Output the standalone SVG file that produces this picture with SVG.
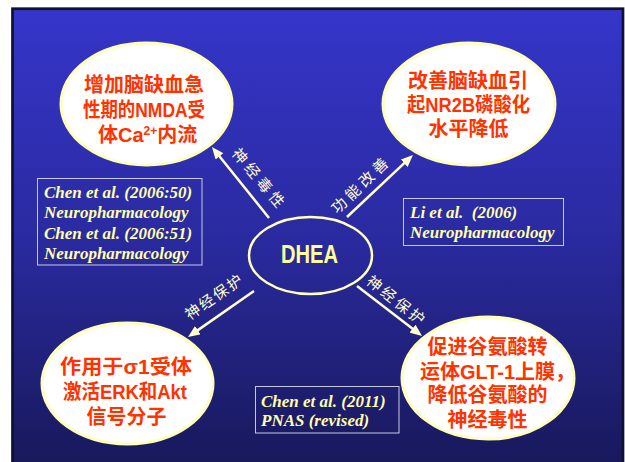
<svg xmlns="http://www.w3.org/2000/svg" width="625" height="462" viewBox="0 0 625 462">
<defs>
<linearGradient id="bg" x1="0" y1="0" x2="0" y2="1">
<stop offset="0" stop-color="#3535ca"/>
<stop offset="0.5" stop-color="#2a2aa0"/>
<stop offset="1" stop-color="#18185a"/>
</linearGradient>
<marker id="ah" viewBox="0 0 12 10" markerWidth="12" markerHeight="10" refX="3" refY="5" orient="auto" markerUnits="userSpaceOnUse">
<path d="M0,0 L12,5 L0,10 z" fill="#ffffcc"/>
</marker>
<style>
.bubble{fill:#ffffff;stroke:#ffffbb;stroke-width:3}
.red{font-family:"Liberation Sans","Noto Sans CJK SC",sans-serif;font-weight:700;font-size:20px;fill:#ff3300}
.lbl{font-family:"Noto Sans CJK SC",sans-serif;font-size:15px;fill:#ffffcc;letter-spacing:4px}
.ref{font-family:"Liberation Serif",serif;font-weight:700;font-style:italic;font-size:17px;fill:#ffffa8}
.box{fill:none;stroke:#c8c8e0;stroke-width:1}
.conn{stroke:#ffffcc;stroke-width:2.5;fill:none;marker-end:url(#ah)}
</style>
</defs>
<rect x="0" y="0" width="625" height="462" fill="#ffffff"/>
<rect x="12.5" y="8.7" width="610.5" height="460" fill="url(#bg)" stroke="#101030" stroke-width="2.7"/>

<g id="connectors">
<line class="conn" x1="269" y1="218" x2="217.6" y2="154"/>
<line class="conn" x1="347" y1="217" x2="406.4" y2="161.2"/>
<line class="conn" x1="254" y1="291" x2="195.4" y2="331.9"/>
<line class="conn" x1="357" y1="286" x2="414.9" y2="330.5"/>
<text class="lbl" text-anchor="middle" transform="translate(258,178) rotate(50)" x="2" y="5">神经毒性</text>
<text class="lbl" text-anchor="middle" transform="translate(360,186) rotate(-44)" x="2" y="5">功能改善</text>
<text class="lbl" text-anchor="middle" transform="translate(213,298) rotate(-35)" x="2" y="5" style="letter-spacing:2px">神经保护</text>
<text class="lbl" text-anchor="middle" transform="translate(395,300) rotate(38)" x="2" y="5" style="letter-spacing:3px">神经保护</text>
</g>

<g id="dhea">
<ellipse cx="310.5" cy="255.5" rx="61.5" ry="38.5" fill="none" stroke="#ffffbb" stroke-width="2.5"/>
<text x="281" y="263" font-family="'Liberation Sans',sans-serif" font-weight="700" font-size="26" fill="#ffff99" textLength="57" lengthAdjust="spacingAndGlyphs">DHEA</text>
</g>

<g id="node-top-left">
<ellipse class="bubble" cx="146.5" cy="104" rx="85.5" ry="61"/>
<text class="red"><tspan x="84" y="92">增加脑缺血急</tspan><tspan x="83" y="117" textLength="122" lengthAdjust="spacingAndGlyphs">性期的NMDA受</tspan><tspan x="98" y="142">体Ca</tspan><tspan font-size="12" dy="-7">2+</tspan><tspan dy="7">内流</tspan></text>
</g>

<g id="node-top-right">
<ellipse class="bubble" cx="469" cy="104" rx="86" ry="61"/>
<text class="red"><tspan x="408" y="88">改善脑缺血引</tspan><tspan x="407" y="112" textLength="123" lengthAdjust="spacingAndGlyphs">起NR2B磷酸化</tspan><tspan x="428.5" y="136">水平降低</tspan></text>
</g>

<g id="node-bottom-left">
<ellipse class="bubble" cx="127.5" cy="383.5" rx="85.5" ry="60.5"/>
<text class="red"><tspan x="60" y="374" textLength="132" lengthAdjust="spacingAndGlyphs">作用于σ1受体</tspan><tspan x="63" y="399" textLength="124" lengthAdjust="spacingAndGlyphs">激活ERK和Akt</tspan><tspan x="86.5" y="424">信号分子</tspan></text>
</g>

<g id="node-bottom-right">
<ellipse class="bubble" cx="488" cy="378" rx="86" ry="61"/>
<text class="red"><tspan x="427.5" y="354">促进谷氨酸转</tspan><tspan x="420" y="379" textLength="155" lengthAdjust="spacingAndGlyphs">运体GLT-1上膜，</tspan><tspan x="427.5" y="402">降低谷氨酸的</tspan><tspan x="447.5" y="427">神经毒性</tspan></text>
</g>

<g id="ref-chen-2006">
<rect class="box" x="37.5" y="178.5" width="164.5" height="86.5"/>
<text class="ref"><tspan x="44" y="197.5">Chen et al. (2006:50)</tspan><tspan x="44" y="218">Neuropharmacology</tspan><tspan x="44" y="238.5">Chen et al. (2006:51)</tspan><tspan x="44" y="259">Neuropharmacology</tspan></text>
</g>

<g id="ref-li-2006">
<rect class="box" x="403.5" y="198.5" width="160" height="47"/>
<text class="ref" xml:space="preserve"><tspan x="410" y="218">Li et al.  (2006)</tspan><tspan x="410" y="238">Neuropharmacology</tspan></text>
</g>

<g id="ref-chen-2011">
<rect class="box" x="255.5" y="386.5" width="143.5" height="46.5"/>
<text class="ref"><tspan x="261" y="406.5">Chen et al. (2011)</tspan><tspan x="261" y="425.5">PNAS (revised)</tspan></text>
</g>
</svg>
